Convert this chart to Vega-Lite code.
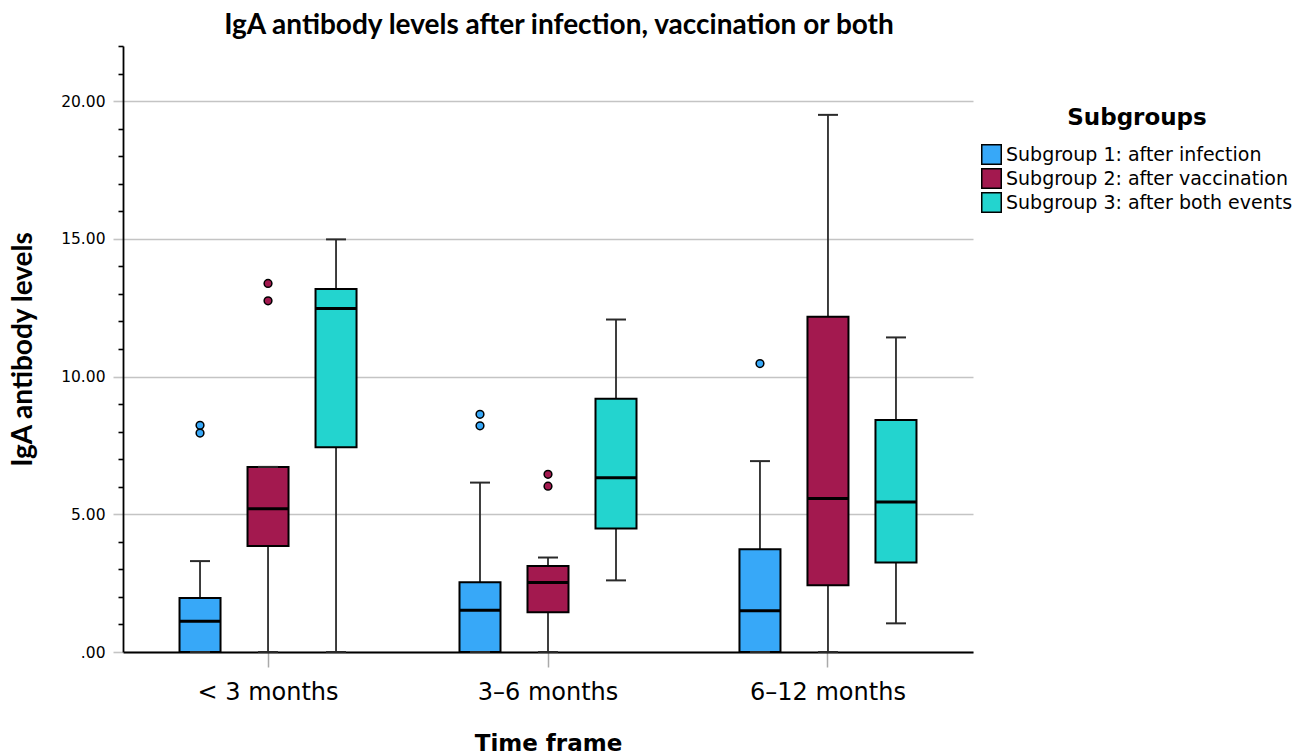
{
  "$schema": "https://vega.github.io/schema/vega-lite/v6.json",
  "width": 850,
  "height": 606,
  "autosize": {"type": "none"},
  "padding": {"left": 123, "top": 46, "right": 336, "bottom": 103},
  "background": "white",
  "title": {
    "text": "IgA antibody levels after infection, vaccination or both",
    "font": "Lato",
    "fontSize": 28,
    "fontWeight": "bold",
    "color": "black",
    "anchor": "middle",
    "dx": 11,
    "offset": -1
  },
  "config": {
    "view": {"stroke": null},
    "axis": {"labelColor": "black", "titleColor": "black"},
    "axisY": {
      "labelFont": "DejaVu Sans",
      "labelFontSize": 15.5,
      "labelPadding": 8,
      "labelOverlap": false,
      "titleFont": "Lato",
      "titleFontSize": 28,
      "titleFontWeight": "bold",
      "titlePadding": 23,
      "domainColor": "black",
      "domainWidth": 1.8,
      "tickWidth": 1.6,
      "gridColor": "#c4c4c4",
      "gridWidth": 1.6
    }
  },
  "datasets": {
    "boxes": [
      {"time": "< 3 months", "subgroup": "Subgroup 1: after infection", "lo": 0, "q1": 0, "med": 1.12, "q3": 1.96, "hi": 3.3},
      {"time": "< 3 months", "subgroup": "Subgroup 2: after vaccination", "lo": 0, "q1": 3.85, "med": 5.2, "q3": 6.72, "hi": 6.72},
      {"time": "< 3 months", "subgroup": "Subgroup 3: after both events", "lo": 0, "q1": 7.43, "med": 12.47, "q3": 13.18, "hi": 14.98},
      {"time": "3–6 months", "subgroup": "Subgroup 1: after infection", "lo": 0, "q1": 0, "med": 1.52, "q3": 2.53, "hi": 6.15},
      {"time": "3–6 months", "subgroup": "Subgroup 2: after vaccination", "lo": 0, "q1": 1.44, "med": 2.52, "q3": 3.12, "hi": 3.43},
      {"time": "3–6 months", "subgroup": "Subgroup 3: after both events", "lo": 2.6, "q1": 4.48, "med": 6.33, "q3": 9.19, "hi": 12.07},
      {"time": "6–12 months", "subgroup": "Subgroup 1: after infection", "lo": 0, "q1": 0, "med": 1.5, "q3": 3.73, "hi": 6.93},
      {"time": "6–12 months", "subgroup": "Subgroup 2: after vaccination", "lo": 0, "q1": 2.42, "med": 5.57, "q3": 12.17, "hi": 19.5},
      {"time": "6–12 months", "subgroup": "Subgroup 3: after both events", "lo": 1.04, "q1": 3.25, "med": 5.45, "q3": 8.42, "hi": 11.42}
    ],
    "outliers": [
      {"time": "< 3 months", "subgroup": "Subgroup 1: after infection", "value": 8.23},
      {"time": "< 3 months", "subgroup": "Subgroup 1: after infection", "value": 7.95},
      {"time": "< 3 months", "subgroup": "Subgroup 2: after vaccination", "value": 13.38},
      {"time": "< 3 months", "subgroup": "Subgroup 2: after vaccination", "value": 12.75},
      {"time": "3–6 months", "subgroup": "Subgroup 1: after infection", "value": 8.63},
      {"time": "3–6 months", "subgroup": "Subgroup 1: after infection", "value": 8.21},
      {"time": "3–6 months", "subgroup": "Subgroup 2: after vaccination", "value": 6.45},
      {"time": "3–6 months", "subgroup": "Subgroup 2: after vaccination", "value": 6.02},
      {"time": "6–12 months", "subgroup": "Subgroup 1: after infection", "value": 10.47}
    ]
  },
  "encoding": {
    "x": {
      "field": "time",
      "type": "nominal",
      "sort": ["< 3 months", "3–6 months", "6–12 months"],
      "scale": {"paddingInner": 0, "paddingOuter": 0.018},
      "axis": {
        "title": "Time frame",
        "titleFont": "DejaVu Sans",
        "titleFontSize": 23,
        "titleFontWeight": "bold",
        "titlePadding": 28,
        "labelFont": "DejaVu Sans",
        "labelFontSize": 24,
        "labelAngle": 0,
        "labelPadding": 13,
        "bandPosition": 0.5,
        "domainColor": "black",
        "domainWidth": 1.8,
        "tickColor": "#aaaaaa",
        "tickSize": 15,
        "tickWidth": 1.5,
        "grid": false
      }
    },
    "xOffset": {
      "field": "subgroup",
      "type": "nominal",
      "sort": ["Subgroup 1: after infection", "Subgroup 2: after vaccination", "Subgroup 3: after both events"],
      "scale": {"paddingInner": 0.397, "paddingOuter": 0.757}
    }
  },
  "layer": [
    {
      "data": {"name": "boxes"},
      "mark": {"type": "rule", "color": "#2a2a2a", "strokeWidth": 1.8},
      "encoding": {
        "y": {
          "field": "lo",
          "type": "quantitative",
          "title": "IgA antibody levels",
          "scale": {"domain": [0, 22], "nice": false},
          "axis": {
            "values": [0,1,2,3,4,5,6,7,8,9,10,11,12,13,14,15,16,17,18,19,20,21,22],
            "labelExpr": "datum.value % 5 === 0 ? (datum.value === 0 ? '.00' : format(datum.value, '.2f')) : ''",
            "tickColor": {"condition": {"test": "datum.value % 5 === 0", "value": "#c4c4c4"}, "value": "black"},
            "tickSize": {"condition": {"test": "datum.value % 5 === 0", "value": 10}, "value": 5},
            "grid": true,
            "gridOpacity": {"condition": {"test": "datum.value % 5 === 0", "value": 1}, "value": 0}
          }
        },
        "y2": {"field": "hi"}
      }
    },
    {
      "data": {"name": "boxes"},
      "mark": {"type": "bar", "stroke": "black", "strokeWidth": 2},
      "encoding": {
        "y": {
          "field": "q1",
          "type": "quantitative",
          "title": "IgA antibody levels",
          "axis": {
            "values": [0,1,2,3,4,5,6,7,8,9,10,11,12,13,14,15,16,17,18,19,20,21,22],
            "labelExpr": "datum.value % 5 === 0 ? (datum.value === 0 ? '.00' : format(datum.value, '.2f')) : ''",
            "tickColor": {"condition": {"test": "datum.value % 5 === 0", "value": "#c4c4c4"}, "value": "black"},
            "tickSize": {"condition": {"test": "datum.value % 5 === 0", "value": 10}, "value": 5},
            "grid": true,
            "gridOpacity": {"condition": {"test": "datum.value % 5 === 0", "value": 1}, "value": 0}
          }
        },
        "y2": {"field": "q3"},
        "fill": {
          "field": "subgroup",
          "type": "nominal",
          "scale": {
            "domain": ["Subgroup 1: after infection", "Subgroup 2: after vaccination", "Subgroup 3: after both events"],
            "range": ["#37a8f8", "#a3194f", "#23d4cf"]
          },
          "legend": {
            "title": "Subgroups",
            "orient": "none",
            "legendX": 858,
            "legendY": 61,
            "titleFont": "DejaVu Sans",
            "titleFontSize": 23,
            "titleFontWeight": "bold",
            "titleColor": "black",
            "titleAnchor": "middle",
            "titleAlign": "center",
            "titlePadding": 14,
            "labelFont": "DejaVu Sans",
            "labelFontSize": 19,
            "labelColor": "black",
            "labelOffset": 4,
            "labelLimit": 400,
            "symbolType": "square",
            "symbolSize": 380,
            "symbolStrokeColor": "black",
            "symbolStrokeWidth": 1.5,
            "symbolOpacity": 1,
            "rowPadding": -3
          }
        }
      }
    },
    {
      "data": {"name": "boxes"},
      "mark": {"type": "tick", "color": "black", "thickness": 3, "size": 41, "opacity": 1},
      "encoding": {
        "y": {
          "field": "med",
          "type": "quantitative",
          "title": "IgA antibody levels",
          "axis": {
            "values": [0,1,2,3,4,5,6,7,8,9,10,11,12,13,14,15,16,17,18,19,20,21,22],
            "labelExpr": "datum.value % 5 === 0 ? (datum.value === 0 ? '.00' : format(datum.value, '.2f')) : ''",
            "tickColor": {"condition": {"test": "datum.value % 5 === 0", "value": "#c4c4c4"}, "value": "black"},
            "tickSize": {"condition": {"test": "datum.value % 5 === 0", "value": 10}, "value": 5},
            "grid": true,
            "gridOpacity": {"condition": {"test": "datum.value % 5 === 0", "value": 1}, "value": 0}
          }
        }
      }
    },
    {
      "data": {"name": "boxes"},
      "mark": {"type": "tick", "color": "#2a2a2a", "thickness": 2, "size": 20, "opacity": 1},
      "encoding": {
        "y": {
          "field": "hi",
          "type": "quantitative",
          "title": "IgA antibody levels",
          "axis": {
            "values": [0,1,2,3,4,5,6,7,8,9,10,11,12,13,14,15,16,17,18,19,20,21,22],
            "labelExpr": "datum.value % 5 === 0 ? (datum.value === 0 ? '.00' : format(datum.value, '.2f')) : ''",
            "tickColor": {"condition": {"test": "datum.value % 5 === 0", "value": "#c4c4c4"}, "value": "black"},
            "tickSize": {"condition": {"test": "datum.value % 5 === 0", "value": 10}, "value": 5},
            "grid": true,
            "gridOpacity": {"condition": {"test": "datum.value % 5 === 0", "value": 1}, "value": 0}
          }
        }
      }
    },
    {
      "data": {"name": "boxes"},
      "mark": {"type": "tick", "color": "#2a2a2a", "thickness": 2, "size": 20, "opacity": 1},
      "encoding": {
        "y": {
          "field": "lo",
          "type": "quantitative",
          "title": "IgA antibody levels",
          "axis": {
            "values": [0,1,2,3,4,5,6,7,8,9,10,11,12,13,14,15,16,17,18,19,20,21,22],
            "labelExpr": "datum.value % 5 === 0 ? (datum.value === 0 ? '.00' : format(datum.value, '.2f')) : ''",
            "tickColor": {"condition": {"test": "datum.value % 5 === 0", "value": "#c4c4c4"}, "value": "black"},
            "tickSize": {"condition": {"test": "datum.value % 5 === 0", "value": 10}, "value": 5},
            "grid": true,
            "gridOpacity": {"condition": {"test": "datum.value % 5 === 0", "value": 1}, "value": 0}
          }
        }
      }
    },
    {
      "data": {"name": "outliers"},
      "mark": {"type": "point", "shape": "circle", "filled": true, "stroke": "black", "strokeWidth": 1.5, "size": 60, "opacity": 1},
      "encoding": {
        "y": {
          "field": "value",
          "type": "quantitative",
          "title": "IgA antibody levels",
          "axis": {
            "values": [0,1,2,3,4,5,6,7,8,9,10,11,12,13,14,15,16,17,18,19,20,21,22],
            "labelExpr": "datum.value % 5 === 0 ? (datum.value === 0 ? '.00' : format(datum.value, '.2f')) : ''",
            "tickColor": {"condition": {"test": "datum.value % 5 === 0", "value": "#c4c4c4"}, "value": "black"},
            "tickSize": {"condition": {"test": "datum.value % 5 === 0", "value": 10}, "value": 5},
            "grid": true,
            "gridOpacity": {"condition": {"test": "datum.value % 5 === 0", "value": 1}, "value": 0}
          }
        },
        "fill": {"field": "subgroup", "type": "nominal"}
      }
    }
  ]
}
